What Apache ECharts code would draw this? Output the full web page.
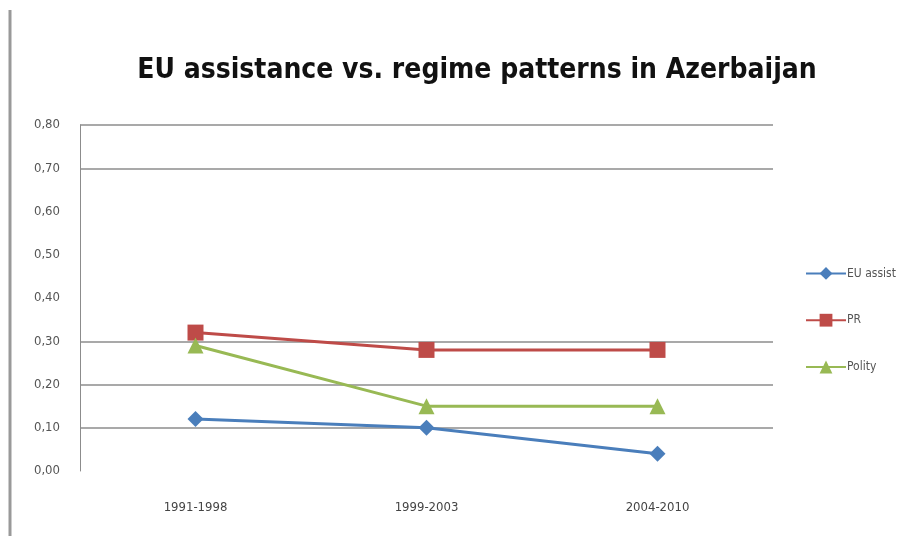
<!DOCTYPE html>
<html>
<head>
<meta charset="utf-8">
<script src="https://cdn.jsdelivr.net/npm/echarts@6/dist/echarts.min.js"></script>
<style>
  html, body { margin: 0; padding: 0; background: #fff; }
  #chart { width: 923px; height: 536px; }
</style>
</head>
<body>
<div id="chart"></div>
<script>
// data
var periods = ['1991-1998', '1999-2003', '2004-2010'];
var euAssist = [0.12, 0.10, 0.04];
var pr = [0.32, 0.28, 0.28];
var polity = [0.29, 0.15, 0.15];

var narrow = "'DejaVu Sans Condensed', 'Liberation Sans Narrow', 'Noto Sans', sans-serif";

var myChart = echarts.init(document.getElementById('chart'));

// grid lines only at some ticks (as in the picture): 0 .. 0.8
var gridColors = ['rgba(0,0,0,0)', '#8c8c8c', '#8c8c8c', '#8c8c8c',
  'rgba(0,0,0,0)', 'rgba(0,0,0,0)', 'rgba(0,0,0,0)', '#8c8c8c', '#8c8c8c'];

myChart.setOption({
    animation: false,
    title: {
        text: 'EU assistance vs. regime patterns in Azerbaijan',
        left: 472,
        textAlign: 'center',
        top: 52,
        textStyle: {
            fontFamily: narrow,
            fontWeight: 'bold',
            fontSize: 28,
            color: '#111'
        }
    },
    graphic: [{
        type: 'line',
        shape: { x1: 10, y1: 10, x2: 10, y2: 536 },
        style: { stroke: '#999', lineWidth: 3 }
    }],
    legend: {
        orient: 'vertical',
        left: 800,
        top: 262,
        itemGap: 34,
        itemWidth: 40,
        itemHeight: 16,
        data: ['EU assist', 'PR', 'Polity'],
        textStyle: { fontFamily: narrow, fontSize: 12, color: '#555', padding: [0, 0, 0, -4] }
    },
    grid: { left: 80, right: 150, top: 125, bottom: 65 },
    xAxis: {
        type: 'category',
        data: periods,
        axisLine: { show: false },
        axisTick: { show: false },
        axisLabel: { fontFamily: narrow, fontSize: 13, color: '#444', margin: 30 }
    },
    yAxis: {
        type: 'value',
        min: 0,
        max: 0.8,
        interval: 0.1,
        axisLine: { show: true, lineStyle: { color: '#8c8c8c', width: 1 } },
        axisTick: { show: false },
        splitLine: { show: true, lineStyle: { color: gridColors, width: 1.5 } },
        axisLabel: {
            fontFamily: narrow,
            fontSize: 13,
            color: '#555',
            margin: 20,
            formatter: function (v) { return v.toFixed(2).replace('.', ','); }
        }
    },
    series: [{
        name: 'EU assist',
        type: 'line',
        data: euAssist,
        symbol: 'diamond',
        symbolSize: 16,
        itemStyle: { color: '#4a7ebb' },
        lineStyle: { color: '#4a7ebb', width: 3 }
    }, {
        name: 'PR',
        type: 'line',
        data: pr,
        symbol: 'rect',
        symbolSize: 16,
        itemStyle: { color: '#be4b48' },
        lineStyle: { color: '#be4b48', width: 3 }
    }, {
        name: 'Polity',
        type: 'line',
        data: polity,
        symbol: 'triangle',
        symbolSize: 16,
        itemStyle: { color: '#98b954' },
        lineStyle: { color: '#98b954', width: 3 }
    }]
});
</script>
</body>
</html>
